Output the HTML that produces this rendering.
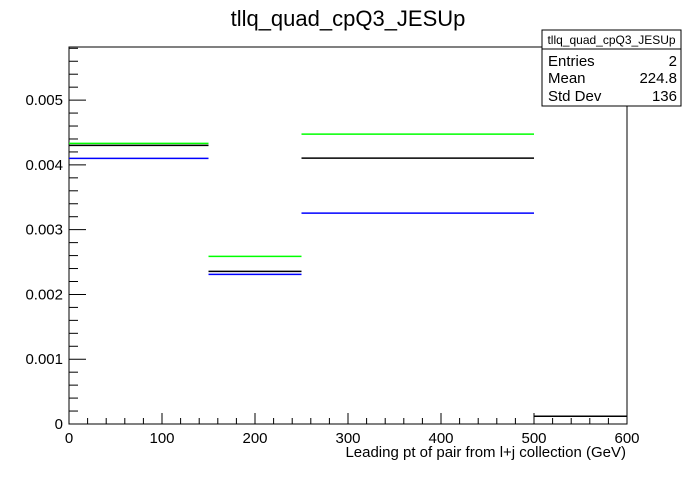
<!DOCTYPE html>
<html><head><meta charset="utf-8"><style>
body{margin:0;background:#fff;}
svg text{font-family:"Liberation Sans",sans-serif;}
</style></head><body>
<svg id="c" width="696" height="472" xmlns="http://www.w3.org/2000/svg">
<text x="348" y="26" font-size="22" text-anchor="middle">tllq_quad_cpQ3_JESUp</text>
<rect x="69" y="47" width="558" height="377" fill="none" stroke="#000" stroke-width="1"/>
<g id="ticks"></g>
<g id="series"></g>
<text x="626" y="457" font-size="15" text-anchor="end">Leading pt of pair from l+j collection (GeV)</text>
<g>
<rect x="542" y="30" width="139" height="76" fill="#fff" stroke="#000"/>
<line x1="542" y1="49" x2="681" y2="49" stroke="#000"/>
<text x="611.5" y="44" font-size="12" text-anchor="middle">tllq_quad_cpQ3_JESUp</text>
<text x="548" y="66" font-size="15">Entries</text>
<text x="677" y="66" font-size="15" text-anchor="end">2</text>
<text x="548" y="83" font-size="15">Mean</text>
<text x="677" y="83" font-size="15" text-anchor="end">224.8</text>
<text x="548" y="101" font-size="15">Std Dev</text>
<text x="677" y="101" font-size="15" text-anchor="end">136</text>
</g>
</svg>
<script>
const binEdges=[0,150,250,500,600];
const greenVals=[0.004332,0.002588,0.004475,0.00012];
const blackVals=[0.004301,0.002356,0.004105,0.00012];
const blueVals=[0.0041,0.00231,0.003256,0.00012];
const xTickLabels=["0","100","200","300","400","500","600"];
const yTickLabels=["0","0.001","0.002","0.003","0.004","0.005"];
const NS="http://www.w3.org/2000/svg";
const X0=69,X1=627,Y0=424,YT=47,XMAX=600,YMAX=0.00582;
const sx=v=>X0+(v/XMAX)*(X1-X0);
const sy=v=>Y0-(v/YMAX)*(Y0-YT);
function mk(tag,attrs,parent){const e=document.createElementNS(NS,tag);for(const k in attrs)e.setAttribute(k,attrs[k]);parent.appendChild(e);return e;}
const tg=document.getElementById('ticks');
for(let v=0;v<=600.001;v+=20){const major=Math.abs(v%100)<0.01;const l=mk('line',{x1:sx(v),x2:sx(v),y1:Y0,y2:Y0-(major?11:6),stroke:'#000'},tg);

}
xTickLabels.forEach((t,i)=>{const e=mk('text',{x:sx(+t),y:443,'font-size':15,'text-anchor':'middle'},tg);e.textContent=t;

});
for(let v=0;v<=0.0058;v+=0.0002){const major=Math.abs((v/0.001)-Math.round(v/0.001))<0.01;const l=mk('line',{x1:X0,x2:X0+(major?17:9),y1:sy(v),y2:sy(v),stroke:'#000'},tg);

}
yTickLabels.forEach((t,i)=>{const e=mk('text',{x:63,y:sy(+t)+5,'font-size':15,'text-anchor':'end'},tg);e.textContent=t;

});
const sg=document.getElementById('series');
[[greenVals,'#00ff00','green'],[blueVals,'#0000ff','blue'],[blackVals,'#000','black']].forEach(([vals,col,nm])=>{
vals.forEach((v,i)=>{const l=mk('line',{x1:sx(binEdges[i]),x2:sx(binEdges[i+1]),y1:sy(v),y2:sy(v),stroke:col,'stroke-width':1.5},sg);

});});
</script>
</body></html>
